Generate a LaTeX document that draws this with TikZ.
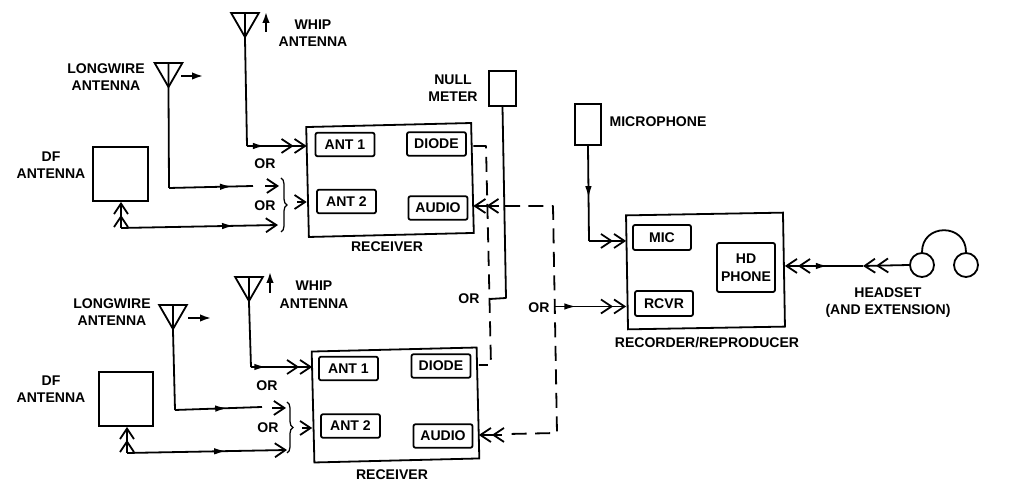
\documentclass[tikz,border=0pt]{standalone}
\usepackage{fontspec}
\setmainfont{Liberation Sans}
\usetikzlibrary{arrows.meta, positioning, shapes.geometric, decorations.markings, decorations.pathreplacing}

\begin{document}
\begin{tikzpicture}[
    x=0.02cm, y=-0.02cm,
    font=\bfseries\fontsize{8}{10}\selectfont,
    panel/.style={draw, line width=0.36mm, inner sep=0pt},
    tag/.style={draw, line width=0.36mm, rounded corners=0.4mm, inner sep=0pt, align=center,
        minimum width=1.18cm, minimum height=0.47cm},
    aerial/.style={draw, line width=0.36mm, regular polygon, regular polygon sides=3,
        shape border rotate=180, inner sep=0pt, minimum size=0.64cm},
    phone/.style={draw, circle, line width=0.36mm, inner sep=0pt, minimum size=0.48cm},
    lab/.style={align=center, inner sep=0pt},
    wire/.style={line width=0.36mm, line join=round},
    dashline/.style={wire, dash pattern=on 3mm off 1.7mm},
    dbl/.style={-{Straight Barb[length=2.1mm,width=2.8mm]Straight Barb[length=2.1mm,width=2.8mm]}},
    dblb/.style={{Straight Barb[length=2.1mm,width=2.8mm]Straight Barb[length=2.1mm,width=2.8mm]}-},
    sng/.style={-{Straight Barb[length=2.1mm,width=2.8mm]}},
    sense/.style={wire, -{Latex[length=2.2mm,width=1.5mm]}},
    midtip/.style={postaction={decorate, decoration={markings,
        mark=at position #1 with {\arrow{Latex[length=2.4mm,width=1.3mm]}}}}}
]
\useasboundingbox (0,0) rectangle (1015,492);

% =====================================================
% UPPER RECEIVER
% =====================================================
\node[panel, rotate=1.4, minimum width=3.3cm, minimum height=2.2cm] (rcvA) at (390,180) {};
\node[tag] (antoneA) at (345,144.5) {ANT 1};
\node[tag] (diodeA)  at (436.5,144) {DIODE};
\node[tag] (anttwoA) at (346.5,201.5) {ANT 2};
\node[tag] (audioA)  at (438,208) {AUDIO};
\node[lab] (rcvlabA) at (387,247) {RECEIVER};

% Antennas
\node[aerial] (whipA) at (245,21) {};
\node[aerial] (longA) at (168.5,71) {};
\node[panel, minimum width=1.1cm, minimum height=1.08cm] (dfA) at (120.5,174) {};
\node[lab] (whiplabA) at (313,33) {WHIP\\ANTENNA};
\node[lab] (longlabA) at (106,77) {LONGWIRE\\ANTENNA};
\node[lab] (dflabA) at (51,165) {DF\\ANTENNA};
\node[lab] (orupA) at (265,164) {OR};
\node[lab] (orlowA) at (265,206) {OR};

\coordinate (whipbendA) at (247,146);
\coordinate (longbendA) at (169,188);
\coordinate (longgapA) at (253,186);
\coordinate (longstubA) at (265,186);
\coordinate (longtipA) at (279,186);
\coordinate (dfbendA) at (121,228);
\coordinate (dftipA) at (278,225);
\coordinate (chevA) at (297,202);
\coordinate (bracetopA) at (281,178);
\coordinate (bracelowA) at (281,232);

\draw[wire] (whipA.side 2) -- (whipA.corner 1) -- (whipbendA);
\draw[wire, midtip=.3, dbl] (whipbendA) -- (rcvA.west |- whipbendA);
\draw[wire] (longA.side 2) -- (longA.corner 1) -- (longbendA);
\draw[wire, midtip=.75] (longbendA) -- (longgapA);
\draw[wire, sng] (longstubA) -- (longtipA);
\draw[wire, dbl] (dfbendA) -- (dfbendA |- dfA.south);
\draw[wire, midtip=.72, sng] (dfbendA) -- (dftipA);
\draw[wire, sng] (chevA) -- (rcvA.west |- chevA);
\draw[line width=0.25mm, decorate, decoration={brace, amplitude=1.2mm}] (bracetopA) -- (bracelowA);

% Direction marks
\coordinate (whipmarkA) at (266,32);
\coordinate (whipheadA) at (266,12);
\coordinate (longmarkA) at (181,76);
\coordinate (longheadA) at (203,76);
\draw[sense] (whipmarkA) -- (whipheadA);
\draw[sense] (longmarkA) -- (longheadA);

% =====================================================
% LOWER RECEIVER
% =====================================================
\node[panel, rotate=1.4, minimum width=3.3cm, minimum height=2.22cm] (rcvB) at (395.5,405) {};
\node[tag] (antoneB) at (348.5,368.5) {ANT 1};
\node[tag] (diodeB)  at (441,366) {DIODE};
\node[tag] (anttwoB) at (350.5,426) {ANT 2};
\node[tag] (audioB)  at (443,436) {AUDIO};
\node[lab] (rcvlabB) at (392,475) {RECEIVER};

% Antennas
\node[aerial] (whipB) at (249,285) {};
\node[aerial] (longB) at (173,313) {};
\node[panel, minimum width=1.08cm, minimum height=1.08cm] (dfB) at (126,399) {};
\node[lab] (whiplabB) at (314,294.5) {WHIP\\ANTENNA};
\node[lab] (longlabB) at (112,312) {LONGWIRE\\ANTENNA};
\node[lab] (dflabB) at (51,389) {DF\\ANTENNA};
\node[lab] (orupB) at (267,386) {OR};
\node[lab] (orlowB) at (268,428) {OR};

\coordinate (whipbendB) at (251,367);
\coordinate (longbendB) at (175,410);
\coordinate (longgapB) at (262,407);
\coordinate (longstubB) at (272,408);
\coordinate (longtipB) at (286,408);
\coordinate (dfbendB) at (127,453);
\coordinate (dftipB) at (287,450);
\coordinate (chevB) at (302,428);
\coordinate (bracetopB) at (287,402);
\coordinate (bracelowB) at (287,453);

\draw[wire] (whipB.side 2) -- (whipB.corner 1) -- (whipbendB);
\draw[wire, midtip=.25, dbl] (whipbendB) -- (rcvB.west |- whipbendB);
\draw[wire] (longB.side 2) -- (longB.corner 1) -- (longbendB);
\draw[wire, midtip=.6] (longbendB) -- (longgapB);
\draw[wire, sng] (longstubB) -- (longtipB);
\draw[wire, dbl] (dfbendB) -- (dfbendB |- dfB.south);
\draw[wire, midtip=.62, sng] (dfbendB) -- (dftipB);
\draw[wire, sng] (chevB) -- (rcvB.west |- chevB);
\draw[line width=0.25mm, decorate, decoration={brace, amplitude=1.2mm}] (bracetopB) -- (bracelowB);

% Direction marks
\coordinate (whipmarkB) at (270,293);
\coordinate (whipheadB) at (270,272);
\coordinate (longmarkB) at (188,318);
\coordinate (longheadB) at (211,318);
\draw[sense] (whipmarkB) -- (whipheadB);
\draw[sense] (longmarkB) -- (longheadB);

% =====================================================
% NULL METER AND RECEIVER OUTPUTS
% =====================================================
\node[panel, minimum width=0.54cm, minimum height=0.7cm] (meter) at (502.5,88.5) {};
\node[lab] (meterlab) at (453,88) {NULL\\METER};
\node[lab] (ormeter) at (469,299) {OR};
\node[lab] (orrec) at (539,308) {OR};

\coordinate (meterbend) at (506,298);
\coordinate (meterjoin) at (490,299);
\coordinate (dashtopA) at (486,146);
\coordinate (dashlowB) at (491,365);
\coordinate (audstubA) at (499,206);
\coordinate (audstubB) at (502,435);
\coordinate (loopstart) at (505,206);
\coordinate (looptop) at (553,206);
\coordinate (looplow) at (557,433);
\coordinate (loopend) at (508,434);
\coordinate (orfork) at (555,306.5);

\draw[wire] (meter.south) -- (meterbend) -- (meterjoin);
\draw[dashline] (rcvA.east |- dashtopA) -- (dashtopA) -- (dashlowB) -- (rcvB.east |- dashlowB);
\draw[wire, dbl] (audstubA) -- (rcvA.east |- audstubA);
\draw[wire, dbl] (audstubB) -- (rcvB.east |- audstubB);
\draw[dashline] (loopstart) -- (looptop) -- (looplow) -- (loopend);

% =====================================================
% RECORDER/REPRODUCER AND HEADSET
% =====================================================
\node[panel, rotate=1, minimum width=3.14cm, minimum height=2.28cm] (rec) at (705.5,271) {};
\node[tag, minimum width=1.16cm, minimum height=0.5cm] (mic) at (662,237.5) {MIC};
\node[tag, minimum width=1.16cm, minimum height=0.5cm] (rcvr) at (664,303.5) {RCVR};
\node[tag, minimum width=1.16cm, minimum height=0.98cm] (hdphone) at (746,267.5) {HD\\PHONE};
\node[lab] (reclab) at (707,343) {RECORDER/REPRODUCER};

\node[panel, minimum width=0.52cm, minimum height=0.82cm] (micbox) at (588,124.5) {};
\node[lab] (miclab) at (658,122) {MICROPHONE};
\node[phone] (phoneL) at (922,265) {};
\node[phone] (phoneR) at (966,265) {};
\node[lab] (headlab) at (888,302.5) {HEADSET\\(AND EXTENSION)};

\coordinate (micbend) at (589,241);
\coordinate (joinhead) at (863,266);

\draw[wire, midtip=.55] (micbox.south) -- (micbend);
\draw[wire, dbl] (micbend) -- (rec.west |- micbend);
\draw[wire, midtip=.3, dbl] (orfork) -- (rec.west |- orfork);
\draw[wire, dblb, midtip=.55] (rec.east |- joinhead) -- (joinhead);
\draw[wire, dbl] (phoneL.west) -- (joinhead);
\draw[wire] (phoneL.north) to[out=90, in=90, looseness=1.7] (phoneR.north);

\end{tikzpicture}
\end{document}
